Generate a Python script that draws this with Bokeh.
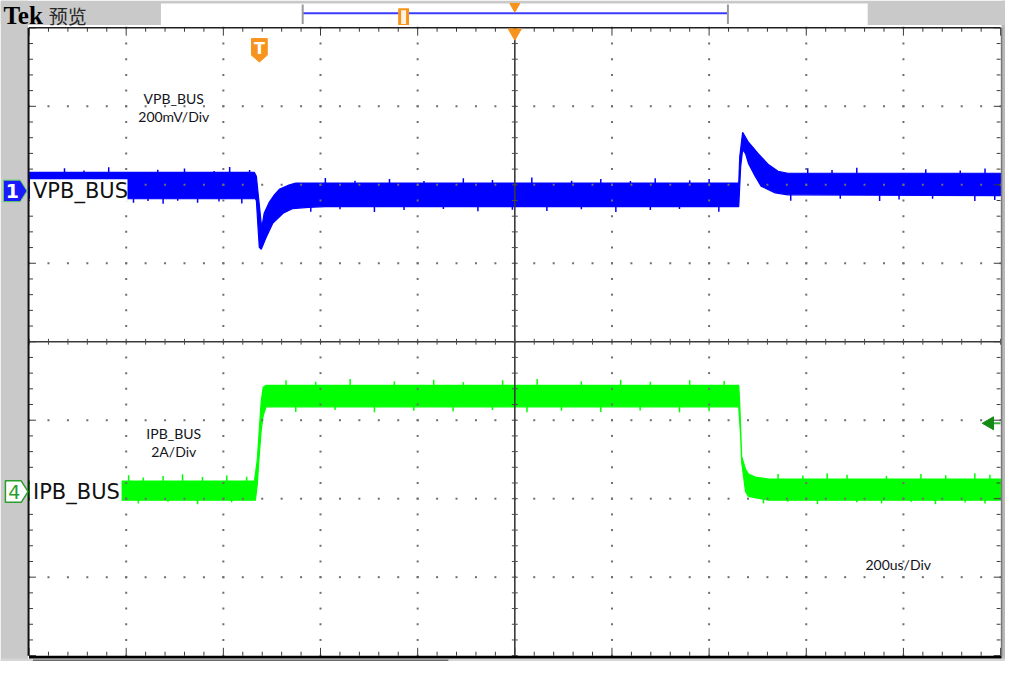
import numpy as np
from bokeh.plotting import figure
from bokeh.models import Range1d
from bokeh.core.properties import value
from bokeh.embed import file_html
from bokeh.resources import INLINE

# ---------------- data ----------------
US_PER_DIV = 200.0      # horizontal scale, 10 divisions
MV_PER_DIV = 200.0      # channel 1 (VPB_BUS)
A_PER_DIV = 2.0         # channel 4 (IPB_BUS)

# Channel 1 VPB_BUS envelope of the noisy trace (time in us, value in mV)
ch1_upper_t = [0, 464, 468, 472, 479, 484, 494, 505, 516, 535, 549, 1461, 1463, 1469, 1481, 1501, 1522, 1542, 1562, 2000]
ch1_upper_mv = [47, 47, 37, -12, -95, -57, -30, -10, 5, 15, 20, 20, 87, 149, 124, 95, 67, 50, 45, 45]
ch1_lower_t = [0, 466, 468, 472, 474, 478, 488, 502, 523, 543, 575, 610, 1461, 1463, 1465, 1469, 1475, 1481, 1495, 1507, 1536, 1562, 2000]
ch1_lower_mv = [-20, -20, -25, -105, -144, -149, -119, -82, -57, -45, -42, -40, -40, 12, 62, 105, 95, 70, 37, 12, -5, -10, -12]
# noise spikes poking out of the band (time in us, tip in mV)
ch1_spike_t = [73, 113, 164, 265, 320, 381, 413, 454, 215, 245, 276, 306, 347, 391, 438,
               610, 671, 742, 813, 894, 954, 1035, 1117, 1177, 1238, 1289, 1360, 1400,
               580, 640, 711, 772, 853, 924, 995, 1066, 1137, 1208, 1279, 1339, 1420,
               1603, 1653, 1704, 1846, 1917, 1968, 1568, 1670, 1751, 1791, 1860, 1947, 1988]
ch1_spike_mv = [58, 52, 60, 54, 57, 51, 61, 53, -30, -26, -33, -25, -30, -27, -32,
                33, 26, 30, 25, 32, 28, 34, 26, 30, 25, 32, 27, 30,
                -53, -47, -54, -49, -46, -52, -48, -51, -47, -54, -49, -46, -53,
                58, 53, 59, 55, 52, 57, -25, -20, -26, -22, -20, -26, -23]

# Channel 4 IPB_BUS envelope (time in us, value in A)
ch4_upper_t = [0, 464, 470, 474, 478, 482, 488, 1461, 1463, 1465, 1467, 1475, 1481, 1495, 1522, 2000]
ch4_upper_a = [0.27, 0.27, 0.82, 1.57, 2.31, 2.66, 2.71, 2.71, 2.24, 1.57, 0.90, 0.57, 0.45, 0.37, 0.32, 0.32]
ch4_lower_t = [0, 466, 470, 474, 478, 482, 488, 1461, 1465, 1467, 1475, 1481, 1522, 2000]
ch4_lower_a = [-0.22, -0.22, 0.20, 0.95, 1.57, 1.94, 2.16, 2.16, 1.39, 0.75, 0.00, -0.12, -0.22, -0.22]
ch4_spike_t = [205, 235, 276, 316, 357, 407, 448, 225, 286, 347, 417,
               529, 590, 661, 752, 833, 894, 975, 1046, 1137, 1218, 1279, 1360, 1431,
               549, 630, 711, 792, 873, 954, 1025, 1096, 1177, 1258, 1339, 1400,
               1542, 1593, 1643, 1684, 1765, 1836, 1887, 1947, 1978,
               1512, 1562, 1623, 1704, 1755, 1816, 1866, 1927, 1968]
ch4_spike_a = [0.42, 0.36, 0.40, 0.44, 0.37, 0.41, 0.38, -0.30, -0.26, -0.32, -0.27,
               2.84, 2.80, 2.87, 2.81, 2.85, 2.79, 2.84, 2.87, 2.81, 2.85, 2.80, 2.84, 2.82,
               2.03, 2.08, 2.02, 2.06, 2.04, 2.08, 2.02, 2.06, 2.03, 2.07, 2.02, 2.05,
               0.45, 0.41, 0.47, 0.43, 0.40, 0.45, 0.42, 0.47, 0.43,
               -0.30, -0.26, -0.32, -0.27, -0.30, -0.26, -0.32, -0.28, -0.30]

ch_names = ["VPB_BUS", "IPB_BUS"]
ch_scales = ["200mV/Div", "2A/Div"]
time_scale = "200us/Div"

# ---------------- screen geometry (scope screen pixels) ----------------
W, H = 1021, 677
GL, GR, GT, GB = 29, 1016, 28, 671
NDX, NDY = 10, 8


def X(px):
    return (px - GL) / (GR - GL) * NDX * US_PER_DIV


def Y(py):
    return (GB - py) / (GB - GT) * NDY


DXP = X(1) - X(0)   # one pixel in time units
DYP = Y(0) - Y(1)   # one pixel in division units

OFF1 = Y(195)   # channel 1 ground marker
OFF4 = Y(503)   # channel 4 ground marker

p = figure(width=1005, height=661,
           x_range=Range1d(X(0), X(W)), y_range=Range1d(Y(H), Y(0)),
           output_backend="svg", toolbar_location=None, min_border=0,
           x_axis_type=None, y_axis_type=None, outline_line_color=None,
           background_fill_color="white", border_fill_color="white")
p.extra_y_ranges = {
    "ch1": Range1d((Y(H) - OFF1) * MV_PER_DIV, (Y(0) - OFF1) * MV_PER_DIV),
    "ch4": Range1d((Y(H) - OFF4) * A_PER_DIV, (Y(0) - OFF4) * A_PER_DIV),
}

# ---------------- traces ----------------
def mid(ts, ut, uv, lt, lv):
    return list((np.interp(ts, ut, uv) + np.interp(ts, lt, lv)) / 2.0)


p.patch(x=ch1_upper_t + ch1_lower_t[::-1], y=ch1_upper_mv + ch1_lower_mv[::-1],
        y_range_name="ch1", fill_color="#0000ff", line_color="#0000ff", line_width=1.2)
p.segment(x0=ch1_spike_t, y0=ch1_spike_mv, x1=ch1_spike_t,
          y1=mid(ch1_spike_t, ch1_upper_t, ch1_upper_mv, ch1_lower_t, ch1_lower_mv),
          y_range_name="ch1", line_color="#0000ff", line_width=1.5)
p.patch(x=ch4_upper_t + ch4_lower_t[::-1], y=ch4_upper_a + ch4_lower_a[::-1],
        y_range_name="ch4", fill_color="#00ff00", line_color="#00ff00", line_width=1.2)
p.segment(x0=ch4_spike_t, y0=ch4_spike_a, x1=ch4_spike_t,
          y1=mid(ch4_spike_t, ch4_upper_t, ch4_upper_a, ch4_lower_t, ch4_lower_a),
          y_range_name="ch4", line_color="#00ff00", line_width=1.5)

# ---------------- graticule ----------------
xmax = NDX * US_PER_DIV
sub_x = np.arange(0, NDX * 5 + 1) * US_PER_DIV / 5
sub_y = np.arange(0, NDY * 5 + 1) / 5.0
dx, dy = [], []
for k in range(1, NDX):
    if k == NDX // 2:
        continue
    dx += [k * US_PER_DIV] * len(sub_y)
    dy += list(sub_y)
for j in range(1, NDY):
    if j == NDY // 2:
        continue
    dx += list(sub_x)
    dy += [j] * len(sub_x)
p.scatter(dx, dy, marker="square", size=2, fill_color="#6e6e6e", line_color=None)

# center lines
p.segment(x0=[xmax / 2, 0], y0=[0, NDY / 2], x1=[xmax / 2, xmax], y1=[NDY, NDY / 2],
          line_color="#3a3a3a", line_width=1.6)
# center ticks
cx = xmax / 2
p.segment(x0=[cx - 3 * DXP] * len(sub_y), y0=list(sub_y), x1=[cx + 3 * DXP] * len(sub_y), y1=list(sub_y),
          line_color="#4a4a4a", line_width=1)
p.segment(x0=list(sub_x), y0=[NDY / 2 - 3 * DYP] * len(sub_x), x1=list(sub_x), y1=[NDY / 2 + 3 * DYP] * len(sub_x),
          line_color="#4a4a4a", line_width=1)
# border ticks
tl_x = [4 if (i % 5) else 8 for i in range(len(sub_x))]
tl_y = [4 if (i % 5) else 7 for i in range(len(sub_y))]
p.segment(x0=list(sub_x), y0=[NDY] * len(sub_x), x1=list(sub_x), y1=[NDY - l * DYP for l in tl_x],
          line_color="#3a3a3a", line_width=1)
p.segment(x0=list(sub_x), y0=[0] * len(sub_x), x1=list(sub_x), y1=[l * DYP for l in tl_x],
          line_color="#3a3a3a", line_width=1)
p.segment(x0=[0] * len(sub_y), y0=list(sub_y), x1=[l * DXP for l in tl_y], y1=list(sub_y),
          line_color="#3a3a3a", line_width=1)
p.segment(x0=[xmax] * len(sub_y), y0=list(sub_y), x1=[xmax - l * DXP for l in tl_y], y1=list(sub_y),
          line_color="#3a3a3a", line_width=1)
# top border line
p.segment(x0=[0], y0=[NDY], x1=[xmax], y1=[NDY], line_color="#202020", line_width=1.5)

# ---------------- on-screen channel labels ----------------
p.quad(left=[X(30), X(30)], right=[X(129), X(123)], top=[Y(183), Y(489)], bottom=[Y(206), Y(516)],
       fill_color="white", line_color=None)
p.text(x=[X(33), X(33)], y=[Y(195), Y(503.5)], text=ch_names, text_font=value("DejaVu Sans"),
       text_font_size="21px", text_color="#111111", text_baseline="middle", text_align="left")

# annotation texts
p.text(x=[X(176), X(176), X(176), X(176), X(912)],
       y=[Y(100), Y(119), Y(443), Y(462), Y(577.5)],
       text=[ch_names[0], ch_scales[0], ch_names[1], ch_scales[1], time_scale],
       text_font=value("Lato"), text_font_size="14px", text_color="#141420",
       text_align="center", text_baseline="middle")

# trigger position marker (orange T)
p.patch(x=[X(255), X(271), X(271), X(263), X(255)], y=[Y(39), Y(39), Y(56), Y(63), Y(56)],
        fill_color="#f7941d", line_color="#f7941d", line_width=1)
p.text(x=[X(263)], y=[Y(49)], text=["T"], text_font=value("DejaVu Sans"), text_font_style="bold",
       text_font_size="16px", text_color="white", text_align="center", text_baseline="middle")
# trigger time marker at top center
p.scatter([cx], [Y(33)], marker="inverted_triangle", size=13, fill_color="#f7941d", line_color="#f7941d")
# trigger level arrow on right
p.segment(x0=[X(1006)], y0=[Y(433)], x1=[X(1016)], y1=[Y(433)], line_color="#3cb043", line_width=2)
p.scatter([X(1005)], [Y(433)], marker="triangle", angle=np.pi / 2, size=13,
          fill_color="#138a13", line_color="#138a13")

# ---------------- screen chrome ----------------
GRAY = "#c9c9c9"
# left strip
p.quad(left=[X(0)], right=[X(GL - 1)], top=[Y(0)], bottom=[Y(H)], fill_color=GRAY, line_color=None)
# left border
p.segment(x0=[X(GL - 0.5)], y0=[Y(GT)], x1=[X(GL - 0.5)], y1=[Y(GB)], line_color="#111111", line_width=2)
# right strip
p.quad(left=[X(GR + 1)], right=[X(W)], top=[Y(0)], bottom=[Y(H)], fill_color="#b8b8b8", line_color=None)
p.segment(x0=[X(GR + 1)], y0=[Y(GT)], x1=[X(GR + 1)], y1=[Y(GB)], line_color="#777777", line_width=1.5)
# bottom bars
p.quad(left=[X(0)], right=[X(W)], top=[Y(GB + 3)], bottom=[Y(H)], fill_color="#d6d6d6", line_color=None)
p.quad(left=[X(GL)], right=[X(GR + 1)], top=[Y(GB)], bottom=[Y(GB + 3)], fill_color="#000000", line_color=None)
p.quad(left=[X(33), X(462)], right=[X(455), X(915)], top=[Y(GB + 4)], bottom=[Y(GB + 6)],
       fill_color="#6b6b6b", line_color=None)
# top bar
p.quad(left=[X(0)], right=[X(W)], top=[Y(0)], bottom=[Y(25)], fill_color=GRAY, line_color=None)
p.quad(left=[X(163)], right=[X(881)], top=[Y(3)], bottom=[Y(25)], fill_color="white", line_color=None)
p.segment(x0=[X(307)], y0=[Y(13)], x1=[X(739)], y1=[Y(13)], line_color="#3b3bff", line_width=2)
p.segment(x0=[X(307), X(739)], y0=[Y(4), Y(4)], x1=[X(307), X(739)], y1=[Y(24), Y(24)],
          line_color="#9a9a9a", line_width=2)
p.quad(left=[X(404)], right=[X(415)], top=[Y(8)], bottom=[Y(25)], fill_color="#f7941d", line_color=None)
p.quad(left=[X(407)], right=[X(412)], top=[Y(10)], bottom=[Y(24)], fill_color="#fff3e0", line_color=None)
p.scatter([cx], [Y(6)], marker="inverted_triangle", size=10, fill_color="#f7941d", line_color="#f7941d")
p.text(x=[X(3)], y=[Y(15)], text=["Tek"], text_font=value("Liberation Serif"), text_font_style="bold",
       text_font_size="25px", text_color="#000000", text_baseline="middle")
p.text(x=[X(49)], y=[Y(15.5)], text=["预览"], text_font=value("Noto Sans CJK SC"),
       text_font_size="19px", text_color="#2a2a2a", text_baseline="middle")

# channel ground markers
p.patch(x=[X(3), X(20), X(27), X(20), X(3)], y=[Y(184), Y(184), Y(195), Y(206), Y(206)],
        fill_color="#1a1aff", line_color="#5fd35f", line_width=1)
p.text(x=[X(12)], y=[Y(195)], text=["1"], text_font=value("DejaVu Sans"), text_font_style="bold",
       text_font_size="19px", text_color="white", text_align="center", text_baseline="middle")
p.patch(x=[X(5), X(21), X(28), X(21), X(5)], y=[Y(492), Y(492), Y(503), Y(514), Y(514)],
        fill_color="white", line_color="#2a9d2a", line_width=1.5)
p.text(x=[X(14)], y=[Y(503)], text=["4"], text_font=value("DejaVu Sans"),
       text_font_size="19px", text_color="#2a9d2a", text_align="center", text_baseline="middle")

open("out.html", "w").write(file_html(p, INLINE))
